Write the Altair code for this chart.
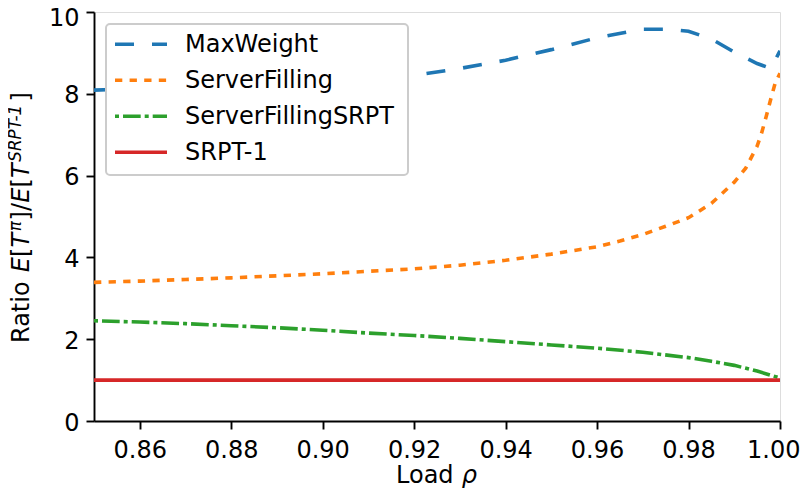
import altair as alt
import pandas as pd

# ---- data ----
series = ["MaxWeight", "ServerFilling", "ServerFillingSRPT", "SRPT-1"]
colors = ["#1f77b4", "#ff7f0e", "#2ca02c", "#d62728"]
dashes = [[19, 18], [7.3, 7.3], [4, 4, 17.7, 4], [1, 0]]

mw_load = [0.85, 0.86, 0.87, 0.88, 0.89, 0.90, 0.91, 0.92, 0.93, 0.94, 0.95, 0.96,
           0.97, 0.975, 0.98, 0.985, 0.99, 0.995, 0.998, 1.0]
mw_ratio = [8.09, 8.13, 8.18, 8.23, 8.28, 8.33, 8.38, 8.45, 8.62, 8.82, 9.08, 9.37,
            9.58, 9.58, 9.53, 9.34, 9.02, 8.74, 8.62, 9.05]

sf_load = [0.85, 0.86, 0.87, 0.88, 0.89, 0.90, 0.91, 0.92, 0.93, 0.94, 0.95, 0.96,
           0.965, 0.97, 0.975, 0.98, 0.985, 0.99, 0.9925, 0.995, 0.996, 0.997,
           0.998, 0.999, 1.0]
sf_ratio = [3.39, 3.42, 3.46, 3.50, 3.55, 3.60, 3.66, 3.72, 3.81, 3.93, 4.08, 4.26,
            4.40, 4.56, 4.76, 4.97, 5.32, 5.84, 6.18, 6.72, 7.05, 7.45,
            7.88, 8.28, 8.50]

sfs_load = [0.85, 0.86, 0.87, 0.88, 0.89, 0.90, 0.91, 0.92, 0.93, 0.94, 0.95, 0.96,
            0.97, 0.98, 0.985, 0.99, 0.995, 1.0]
sfs_ratio = [2.45, 2.42, 2.38, 2.33, 2.28, 2.22, 2.15, 2.09, 2.02, 1.94, 1.86, 1.78,
             1.68, 1.55, 1.46, 1.36, 1.22, 1.05]

srpt_load = [0.85, 1.0]
srpt_ratio = [1.0, 1.0]

x_ticks = [0.86, 0.88, 0.90, 0.92, 0.94, 0.96, 0.98, 1.00]
y_ticks = [0, 2, 4, 6, 8, 10]

# ---- build table ----
rows = []
for name, xs, ys in [(series[0], mw_load, mw_ratio), (series[1], sf_load, sf_ratio),
                     (series[2], sfs_load, sfs_ratio), (series[3], srpt_load, srpt_ratio)]:
    for i, (a, b) in enumerate(zip(xs, ys)):
        rows.append({"series": name, "load": a, "ratio": b, "idx": i})
df = pd.DataFrame(rows)

FONT = "DejaVu Sans"
W, H = 686, 409

lines = alt.Chart(df).mark_line(strokeWidth=3.6, clip=True).encode(
    x=alt.X("load:Q", scale=alt.Scale(domain=[0.85, 1.0], nice=False, zero=False),
            axis=alt.Axis(values=x_ticks, format=".2f", title=None, grid=False,
                          labelFlush=1, labelFlushOffset=20,
                          labelOverlap=False, labelPadding=9,
                          labelFontSize=24, labelFont=FONT, labelColor="black",
                          tickSize=8, tickWidth=1.9, tickColor="black",
                          domainColor="black", domainWidth=1.9)),
    y=alt.Y("ratio:Q", scale=alt.Scale(domain=[0, 10], nice=False),
            axis=alt.Axis(values=y_ticks, title=None, grid=False,
                          labelPadding=7,
                          labelOffset={"condition": {"test": "datum.value == 10", "value": 6},
                                       "value": 2},
                          labelFontSize=24, labelFont=FONT, labelColor="black",
                          tickSize=8, tickWidth=1.9, tickColor="black",
                          domainColor="black", domainWidth=1.9)),
    color=alt.Color("series:N", scale=alt.Scale(domain=series, range=colors), legend=None),
    strokeDash=alt.StrokeDash("series:N", scale=alt.Scale(domain=series, range=dashes),
                              legend=None),
    order="idx:Q",
)

layers = [lines]

# ---- legend (drawn as marks, matplotlib style) ----
one = pd.DataFrame({"k": [0]})
layers.append(alt.Chart(one).mark_rect(fill="white", stroke="#cccccc", strokeWidth=2,
                                       cornerRadius=4).encode(
    x=alt.value(12), x2=alt.value(314), y=alt.value(12), y2=alt.value(163)))
for i, name in enumerate(series):
    ry = 32.3 + 36 * i
    layers.append(alt.Chart(one).mark_rule(color=colors[i], strokeDash=dashes[i],
                                           strokeWidth=3.6).encode(
        x=alt.value(21), x2=alt.value(73), y=alt.value(ry)))
    layers.append(alt.Chart(pd.DataFrame({"t": [name]})).mark_text(
        align="left", baseline="middle", fontSize=24, font=FONT, color="black").encode(
        text="t:N", x=alt.value(91), y=alt.value(ry + 1)))

# ---- axis titles with math pieces ----
def piece(txt, x, y, size=24, italic=False, angle=0, align="left"):
    kw = dict(align=align, baseline="alphabetic", fontSize=size, font=FONT, color="black")
    if italic:
        kw["fontStyle"] = "italic"
    if angle:
        kw["angle"] = angle
    return alt.Chart(pd.DataFrame({"t": [txt]})).mark_text(**kw).encode(
        text="t:N", x=alt.value(x), y=alt.value(y))

# x title: "Load ρ"
layers.append(piece("Load", 302, 471))
layers.append(piece("ρ", 302 + 2.735 * 24, 471, italic=True))

# y title: Ratio E[T^π]/E[T^{SRPT-1}]
unit = 24.3
y0 = 331
xb = -65
xs = -73
ytitle = [
    ("Ratio", 0.0, False, False),
    ("E", 2.908, True, False),
    ("[", 3.540, False, False),
    ("T", 3.930, True, False),
    ("π", 4.600, True, True),
    ("]", 5.040, False, False),
    ("/", 5.430, False, False),
    ("E", 5.767, True, False),
    ("[", 6.399, False, False),
    ("T", 6.789, True, False),
    ("SRPT-1", 7.460, True, True),
    ("]", 9.940, False, False),
]
for txt, off, it, sup in ytitle:
    layers.append(piece(txt, xs if sup else xb, y0 - off * unit,
                        size=16.8 if sup else 24, italic=it, angle=270))

chart = alt.layer(*layers).properties(
    width=W, height=H,
    autosize=alt.AutoSizeParams(type="none"),
    padding={"left": 86, "top": 4, "right": 20, "bottom": 70},
).configure_view(stroke="black", strokeWidth=1.9).configure(background="white")

chart.save("out.html", embed_options={"renderer": "svg", "actions": False})
